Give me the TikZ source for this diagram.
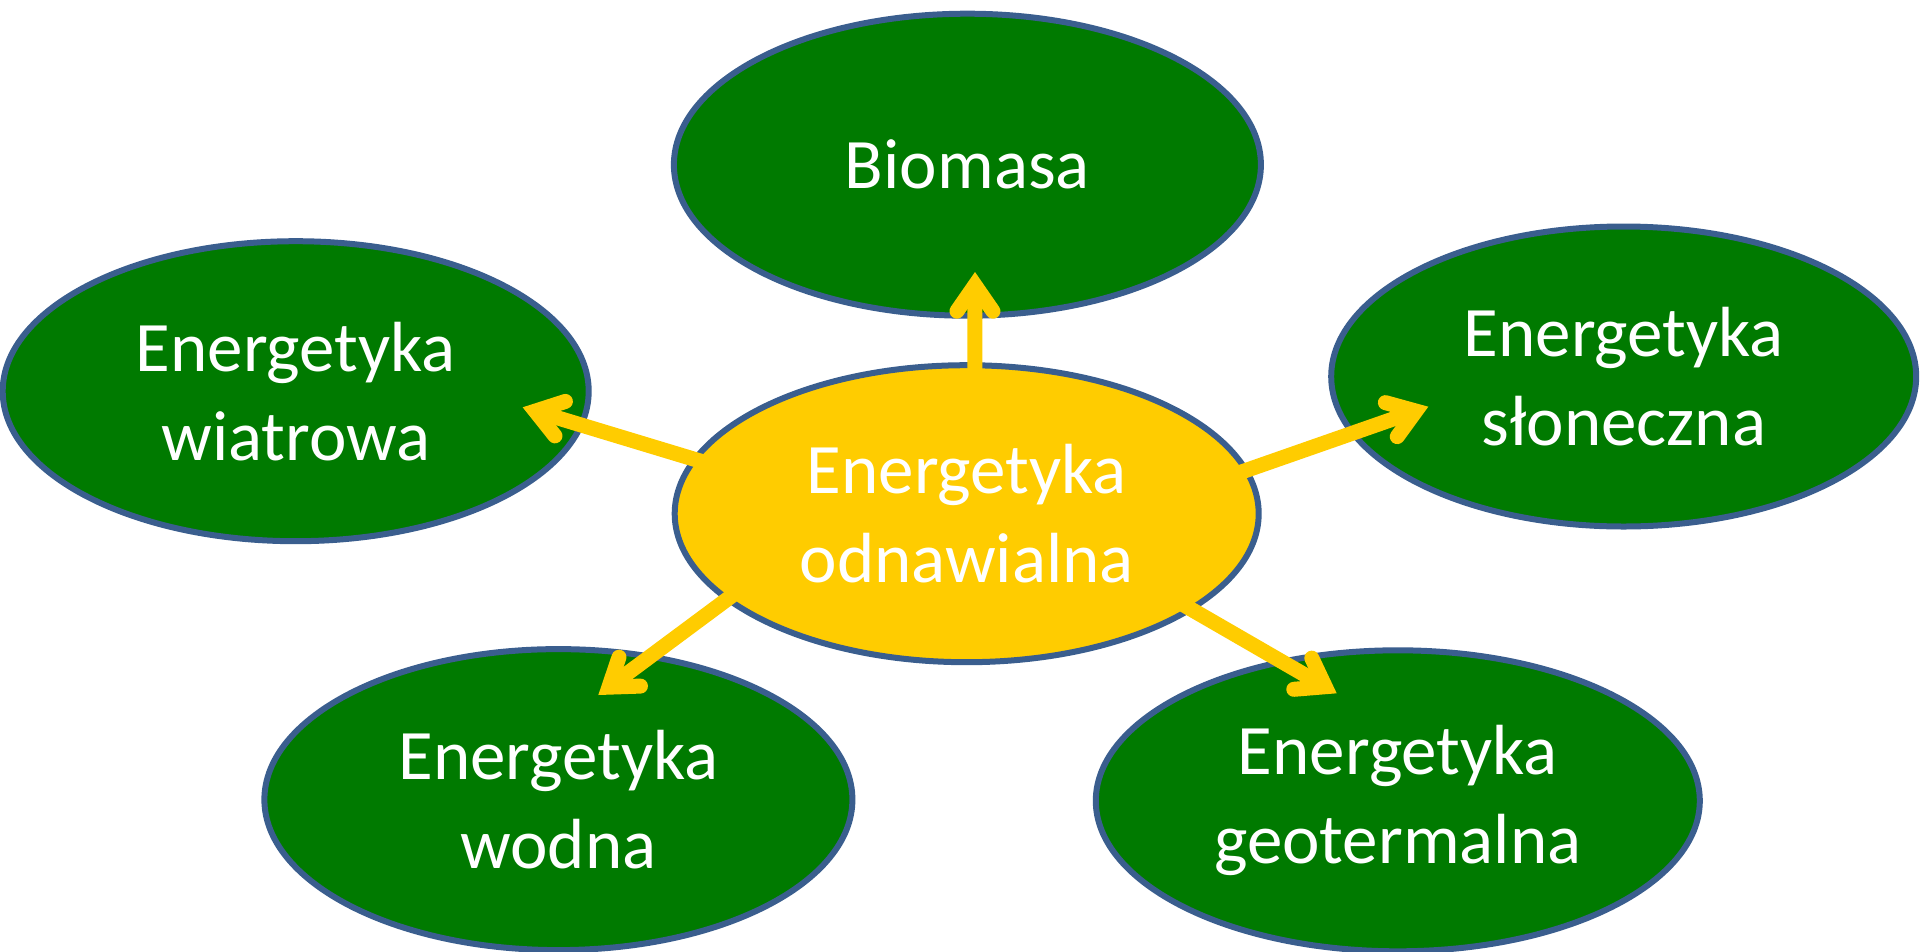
\documentclass[tikz,border=0pt]{standalone}
\usepackage{fontspec}
\setmainfont{Carlito}
\usetikzlibrary{shapes.geometric,arrows.meta}
\definecolor{leaf}{HTML}{007A00}
\definecolor{sun}{HTML}{FFCC00}
\definecolor{rim}{HTML}{3A5E8E}
\begin{document}
\begin{tikzpicture}[x=1pt,y=-1pt,
  blob/.style={ellipse, draw=rim, line width=6pt, inner sep=0pt, text=white, align=center,
    font=\fontsize{71}{89}\selectfont},
  greenblob/.style={blob, fill=leaf},
  hubblob/.style={blob, fill=sun},
  link/.style={draw=sun, line width=15pt,
    -{Straight Barb[length=26pt,width=36pt,line cap=round,line join=miter]}}
]
\useasboundingbox (0,0) rectangle (1920,951);
\node[hubblob, minimum width=584pt, minimum height=297pt] (hub) at (966.7,513.7) {Energetyka\\odnawialna};
\node[greenblob, minimum width=587pt, minimum height=302pt] (bio) at (967.4,164.7) {Biomasa};
\node[greenblob, minimum width=586pt, minimum height=300pt] (wind) at (295.7,391.2) {Energetyka\\wiatrowa};
\node[greenblob, minimum width=585pt, minimum height=300pt] (solar) at (1623.7,376.5) {Energetyka\\słoneczna};
\node[greenblob, minimum width=588pt, minimum height=301pt] (water) at (558.4,799.6) {Energetyka\\wodna};
\node[greenblob, minimum width=604pt, minimum height=301pt] (geo) at (1397.8,800.8) {Energetyka\\geotermalna};

\coordinate (sBio) at (974.8,420);
\coordinate (tBio) at (975,272);
\coordinate (sWind) at (720,467);
\coordinate (tWind) at (522.7,407.3);
\coordinate (sSolar) at (1230,476);
\coordinate (tSolar) at (1428.3,406.7);
\coordinate (sWater) at (745,586);
\coordinate (tWater) at (598.3,695);
\coordinate (sGeo) at (1170,597);
\coordinate (tGeo) at (1336.7,693.3);

\draw[link] (sBio) -- (tBio);
\draw[link] (sWind) -- (tWind);
\draw[link] (sSolar) -- (tSolar);
\draw[link] (sWater) -- (tWater);
\draw[link] (sGeo) -- (tGeo);
\end{tikzpicture}
\end{document}
